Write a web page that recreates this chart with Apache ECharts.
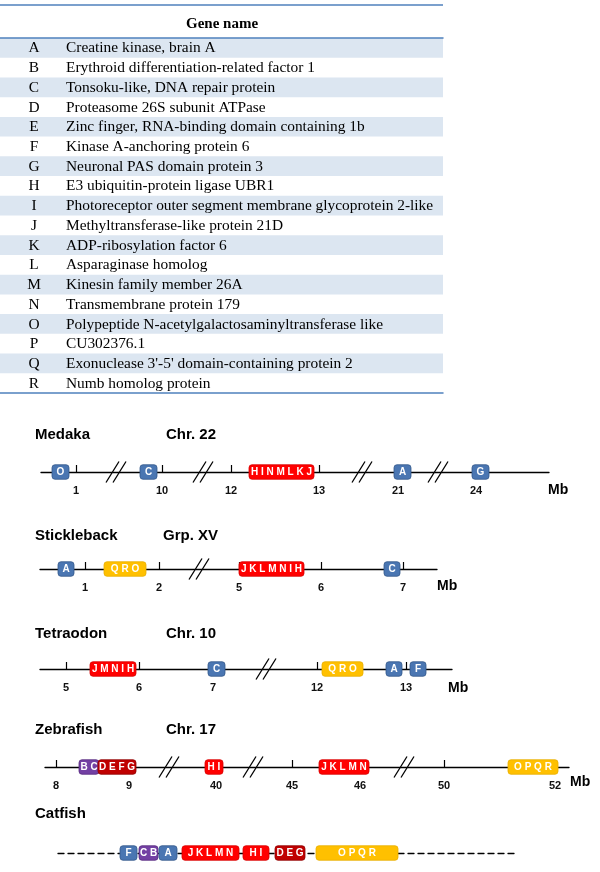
<!DOCTYPE html>
<html><head><meta charset="utf-8">
<script src="https://cdn.jsdelivr.net/npm/echarts@6/dist/echarts.min.js"></script>
<style>html,body{margin:0;padding:0;background:#fff}#c{width:600px;height:872px}</style>
</head><body><div id="c"></div><script>
// ---------- table data ----------
const geneLetters = ['A','B','C','D','E','F','G','H','I','J','K','L','M','N','O','P','Q','R'];
const geneNames = [
  'Creatine kinase, brain A',
  'Erythroid differentiation-related factor 1',
  'Tonsoku-like, DNA repair protein',
  'Proteasome 26S subunit ATPase',
  'Zinc finger, RNA-binding domain containing 1b',
  'Kinase A-anchoring protein 6',
  'Neuronal PAS domain protein 3',
  'E3 ubiquitin-protein ligase UBR1',
  'Photoreceptor outer segment membrane glycoprotein 2-like',
  'Methyltransferase-like protein 21D',
  'ADP-ribosylation factor 6',
  'Asparaginase homolog',
  'Kinesin family member 26A',
  'Transmembrane protein 179',
  'Polypeptide N-acetylgalactosaminyltransferase like',
  'CU302376.1',
  "Exonuclease 3'-5' domain-containing protein 2",
  'Numb homolog protein'
];
const tableHeader = 'Gene name';

// ---------- synteny data (positions along each schematic track) ----------
const speciesNames = ['Medaka','Stickleback','Tetraodon','Zebrafish','Catfish'];
const chromosomeNames = ['Chr. 22','Grp. XV','Chr. 10','Chr. 17',''];
const unitLabel = 'Mb';

const medakaExtent = [41, 549];
const medakaTicks = [76, 162, 231, 319, 398, 476];
const medakaTickLabels = ['1','10','12','13','21','24'];
const medakaBreaks = [116, 203, 362, 438];
const medakaBlocks = [[52,69,'O','blue'],[140,157,'C','blue'],[249,314,'HINMLKJ','red'],[394,411,'A','blue'],[472,489,'G','blue']];

const sticklebackExtent = [40, 437];
const sticklebackTicks = [85, 159, 239, 321, 403];
const sticklebackTickLabels = ['1','2','5','6','7'];
const sticklebackBreaks = [199];
const sticklebackBlocks = [[58,74,'A','blue'],[104,146,'QRO','yellow'],[239,304,'JKLMNIH','red'],[384,400,'C','blue']];

const tetraodonExtent = [40, 452];
const tetraodonTicks = [66, 139, 213, 317, 406];
const tetraodonTickLabels = ['5','6','7','12','13'];
const tetraodonBreaks = [266];
const tetraodonBlocks = [[90,136,'JMNIH','red'],[208,225,'C','blue'],[322,363,'QRO','yellow'],[386,402,'A','blue'],[410,426,'F','blue']];

const zebrafishExtent = [45, 569];
const zebrafishTicks = [56, 129, 216, 292, 360, 444, 555];
const zebrafishTickLabels = ['8','9','40','45','46','50','52'];
const zebrafishBreaks = [169, 253, 404];
const zebrafishBlocks = [[79,99,'BC','purple'],[98,136,'DEFG','darkred'],[205,223,'HI','red'],[319,369,'JKLMN','red'],[508,558,'OPQR','yellow']];

const catfishExtent = [58, 518];
const catfishTicks = [];
const catfishTickLabels = [];
const catfishBreaks = [];
const catfishBlocks = [[120,137,'F','blue'],[139,158,'CB','purple'],[159,177,'A','blue'],[182,239,'JKLMN','red'],[243,269,'HI','red'],[275,305,'DEG','darkred'],[316,398,'OPQR','yellow']];

// ---------- styling / layout ----------
const groupFill = {blue:'#4a76b2', purple:'#7340a3', darkred:'#c00000', red:'#ff0000', yellow:'#ffc000'};
const groupStroke = {blue:'#34588a', purple:'#57287f', darkred:'#8e0000', red:'#d80000', yellow:'#e8ae00'};

const tracks = [
  {ext:medakaExtent, ticks:medakaTicks, labels:medakaTickLabels, breaks:medakaBreaks, blocks:medakaBlocks},
  {ext:sticklebackExtent, ticks:sticklebackTicks, labels:sticklebackTickLabels, breaks:sticklebackBreaks, blocks:sticklebackBlocks},
  {ext:tetraodonExtent, ticks:tetraodonTicks, labels:tetraodonTickLabels, breaks:tetraodonBreaks, blocks:tetraodonBlocks},
  {ext:zebrafishExtent, ticks:zebrafishTicks, labels:zebrafishTickLabels, breaks:zebrafishBreaks, blocks:zebrafishBlocks},
  {ext:catfishExtent, ticks:catfishTicks, labels:catfishTickLabels, breaks:catfishBreaks, blocks:catfishBlocks}
];
const lineY = [472, 569, 669, 767, 853];
const titleY = [435, 536, 634, 730, 814];
const chrX = [166, 163, 166, 166, 0];
const mbPos = [[548, 490], [437, 586], [448, 688], [570, 782]];

const serif = '"Liberation Serif", "Times New Roman", serif';
const sans = '"Liberation Sans", Arial, sans-serif';
const tableBlue = '#4f81bd';

const chart = echarts.init(document.getElementById('c'), null, {renderer:'canvas'});

const grid = [{left:0, width:443, top:38, height:355}];
const xAxis = [
  {gridIndex:0, type:'value', min:0, max:443, position:'top', z:10,
   axisLine:{show:true, onZero:false, lineStyle:{color:tableBlue, width:1.5}}, axisTick:{show:false}, axisLabel:{show:false}, splitLine:{show:false}},
  {gridIndex:0, type:'value', min:0, max:443, position:'bottom', z:10,
   axisLine:{show:true, onZero:false, lineStyle:{color:tableBlue, width:1.5}}, axisTick:{show:false}, axisLabel:{show:false}, splitLine:{show:false}}
];
const yAxis = [{gridIndex:0, type:'category', data:geneLetters, inverse:true, show:false}];
const series = [{
  type:'custom', xAxisIndex:0, yAxisIndex:0, z:1,
  data: geneLetters.map((l, i) => [0, i]),
  encode:{x:0, y:1},
  renderItem: function(params, api){
    const i = params.dataIndex;
    const c = api.coord([0, i]);
    const bh = api.size([0, 1])[1];
    const cs = params.coordSys;
    const children = [];
    if (i % 2 === 0) {
      children.push({type:'rect', shape:{x:cs.x, y:c[1]-bh/2, width:cs.width, height:bh}, style:{fill:'#dce6f1'}});
    }
    children.push({type:'text', style:{text:geneLetters[i], x:cs.x+34, y:c[1]+0.5, align:'center', verticalAlign:'middle', font:'15.4px '+serif, fill:'#000'}});
    children.push({type:'text', style:{text:geneNames[i], x:cs.x+66, y:c[1]+0.5, align:'left', verticalAlign:'middle', font:'15.4px '+serif, fill:'#000'}});
    return {type:'group', children};
  }
}];

tracks.forEach((t, k) => {
  const gi = k + 1;
  grid.push({left:t.ext[0], right:600 - t.ext[1], top:lineY[k] - 20, height:20});
  const isCat = t.ticks.length === 0;
  xAxis.push({
    gridIndex:gi, type:'value', min:t.ext[0], max:t.ext[1], position:'bottom',
    axisLine:{show:true, onZero:false, lineStyle:{color:'#000', width:1.3, type: isCat ? [6,4] : 'solid'}},
    axisTick:{show:!isCat, inside:true, length:7, customValues:t.ticks, lineStyle:{color:'#000', width:1.2}},
    axisLabel:{show:!isCat, customValues:t.ticks, margin:13, color:'#111', fontWeight:'bold', fontSize:11, fontFamily:sans,
      formatter: function(v){ const j = t.ticks.indexOf(Math.round(v)); return j >= 0 ? t.labels[j] : ''; }},
    splitLine:{show:false}
  });
  yAxis.push({gridIndex:gi, type:'value', min:0, max:1, show:false});
  // gene blocks
  series.push({
    type:'custom', xAxisIndex:gi+1, yAxisIndex:gi, z:5, clip:false,
    data: t.blocks.map(b => [b[0], b[1]]),
    dimensions:['start','end'],
    encode:{x:['start','end']},
    renderItem: function(params, api){
      const b = t.blocks[params.dataIndex];
      const p1 = api.coord([api.value(0), 0]);
      const p2 = api.coord([api.value(1), 0]);
      const h = 14.5;
      return {type:'group', children:[
        {type:'rect', shape:{x:p1[0], y:p1[1]-h/2, width:p2[0]-p1[0], height:h, r:3},
         style:{fill:groupFill[b[3]], stroke:groupStroke[b[3]], lineWidth:0.8}},
        {type:'text', style:{text:b[2].split('').join(' '), x:(p1[0]+p2[0])/2, y:p1[1]+0.5, align:'center', verticalAlign:'middle',
          font:'bold 10px '+sans, fill:'#fff'}}
      ]};
    }
  });
  // chromosome break marks
  if (t.breaks.length) {
    series.push({
      type:'custom', xAxisIndex:gi+1, yAxisIndex:gi, z:6, clip:false,
      data: t.breaks.map(b => [b]),
      encode:{x:0},
      renderItem: function(params, api){
        const c = api.coord([api.value(0), 0]);
        const mk = (off) => ({type:'line', shape:{x1:c[0]-10+off, y1:c[1]+10.5, x2:c[0]+3+off, y2:c[1]-10.5},
          style:{stroke:'#000', lineWidth:1.3}});
        return {type:'group', children:[mk(0), mk(7)]};
      }
    });
  }
});

const graphic = [
  {type:'line', shape:{x1:0, y1:5, x2:443, y2:5}, style:{stroke:tableBlue, lineWidth:1.5}},
  {type:'text', style:{text:tableHeader, x:222, y:24, align:'center', verticalAlign:'middle', font:'bold 15px '+serif, fill:'#000'}}
];
speciesNames.forEach((s, k) => {
  graphic.push({type:'text', style:{text:s, x:35, y:titleY[k], align:'left', verticalAlign:'middle', font:'bold 15px '+sans, fill:'#000'}});
  if (chromosomeNames[k]) {
    graphic.push({type:'text', style:{text:chromosomeNames[k], x:chrX[k], y:titleY[k], align:'left', verticalAlign:'middle', font:'bold 15px '+sans, fill:'#000'}});
  }
});
mbPos.forEach(p => {
  graphic.push({type:'text', style:{text:unitLabel, x:p[0], y:p[1], align:'left', verticalAlign:'middle', font:'bold 14px '+sans, fill:'#000'}});
});

chart.setOption({animation:false, backgroundColor:'#fff', grid, xAxis, yAxis, series, graphic});
</script></body></html>
